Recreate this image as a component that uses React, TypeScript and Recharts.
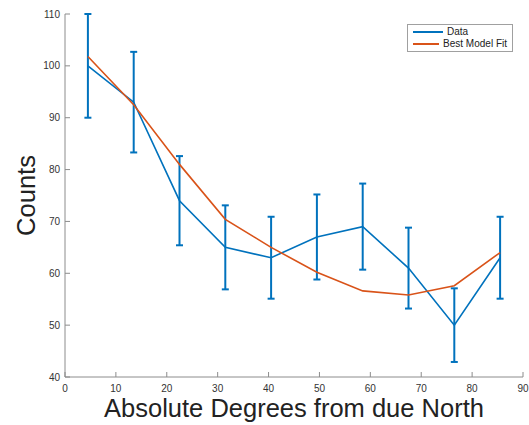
import {
  ComposedChart,
  Line,
  ErrorBar,
  XAxis,
  YAxis,
  Legend,
} from 'recharts';

// bin centres (degrees) and measured counts with their error bars
const angles = [4.5, 13.5, 22.5, 31.5, 40.5, 49.5, 58.5, 67.5, 76.5, 85.5];
const counts = [100, 93, 74, 65, 63, 67, 69, 61, 50, 63];
const countErrors = [10, 9.7, 8.6, 8.1, 7.9, 8.2, 8.3, 7.8, 7.1, 7.9];
const modelFit = [101.8, 92.5, 81, 70.4, 65, 60.2, 56.6, 55.8, 57.6, 64];

const xTicks = [0, 10, 20, 30, 40, 50, 60, 70, 80, 90];
const yTicks = [40, 50, 60, 70, 80, 90, 100, 110];

const data = angles.map((a, i) => ({
  angle: a,
  counts: counts[i],
  err: countErrors[i],
  fit: modelFit[i],
}));

const font = '"Liberation Sans", Arial, Helvetica, sans-serif';
const blue = '#0072BD';
const orange = '#D95319';
const axisColor = '#8c8c8c';
const tickStyle = { fill: '#333', fontSize: 10, fontFamily: font };

const legendItems = [
  { label: 'Data', color: blue },
  { label: 'Best Model Fit', color: orange },
];

function LegendBox() {
  return (
    <div
      style={{
        boxSizing: 'border-box',
        width: 106,
        height: 28,
        border: '1px solid #a0a0a0',
        background: '#fff',
        padding: '1px 5px',
        fontFamily: font,
        fontSize: 10,
        color: '#222',
        lineHeight: '12px',
        whiteSpace: 'nowrap',
      }}
    >
      {legendItems.map((it) => (
        <div key={it.label} style={{ display: 'flex', alignItems: 'center' }}>
          <span
            style={{
              display: 'inline-block',
              width: 30,
              height: 0,
              borderTop: `2px solid ${it.color}`,
              marginRight: 4,
            }}
          />
          {it.label}
        </div>
      ))}
    </div>
  );
}

export default function App() {
  return (
    <div style={{ position: 'absolute', left: 0, top: 0, background: '#fff' }}>
      <ComposedChart
        width={529}
        height={425}
        data={data}
        margin={{ top: 14, right: 6, left: 0, bottom: 0 }}
      >
        <XAxis
          dataKey="angle"
          type="number"
          domain={[0, 90]}
          ticks={xTicks}
          height={48}
          tick={tickStyle}
          tickSize={-5}
          tickMargin={13}
          stroke={axisColor}
          label={{
            value: 'Absolute Degrees from due North',
            position: 'center',
            dy: 7,
            style: { fontSize: 25.5, fontFamily: font, fill: '#222' },
          }}
        />
        <XAxis
          xAxisId="top"
          orientation="top"
          dataKey="angle"
          type="number"
          domain={[0, 90]}
          ticks={xTicks}
          height={0}
          tickSize={-5}
          tickFormatter={() => ''}
          stroke={axisColor}
        />
        <YAxis
          yAxisId="left"
          type="number"
          domain={[40, 110]}
          ticks={yTicks}
          width={65}
          tick={tickStyle}
          tickSize={-5}
          tickMargin={10}
          stroke={axisColor}
          label={{
            value: 'Counts',
            angle: -90,
            position: 'center',
            dx: -7,
            style: { fontSize: 25.5, fontFamily: font, fill: '#222' },
          }}
        />
        <YAxis
          yAxisId="right"
          orientation="right"
          type="number"
          domain={[40, 110]}
          ticks={yTicks}
          width={0}
          tickSize={-5}
          tickFormatter={() => ''}
          stroke={axisColor}
        />
        <Legend
          layout="horizontal"
          verticalAlign="middle"
          align="center"
          wrapperStyle={{ left: 407, top: 24, width: 106 }}
          content={() => <LegendBox />}
        />
        <Line
          yAxisId="left"
          dataKey="counts"
          name="Data"
          stroke={blue}
          strokeWidth={1.6}
          dot={false}
          isAnimationActive={false}
        >
          <ErrorBar
            dataKey="err"
            direction="y"
            width={3.5}
            stroke={blue}
            strokeWidth={2}
            isAnimationActive={false}
          />
        </Line>
        <Line
          yAxisId="left"
          dataKey="fit"
          name="Best Model Fit"
          stroke={orange}
          strokeWidth={1.6}
          dot={false}
          isAnimationActive={false}
        />
      </ComposedChart>
    </div>
  );
}
